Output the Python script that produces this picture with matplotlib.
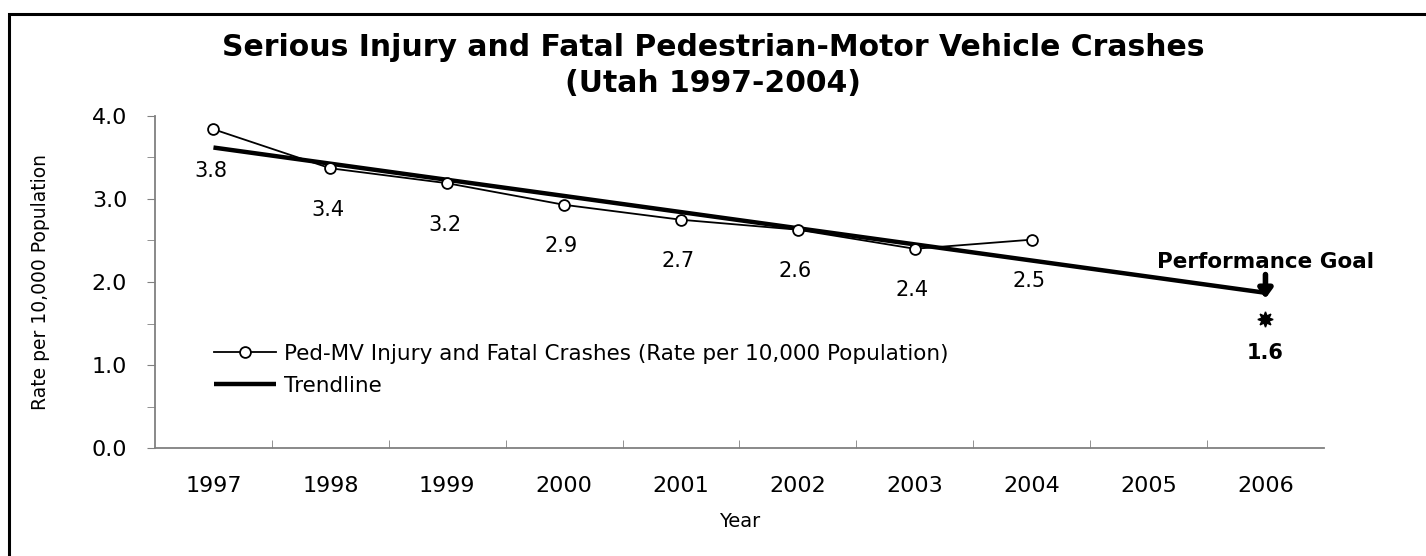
import numpy as np
import matplotlib
matplotlib.use("Agg")
import matplotlib.pyplot as plt
from matplotlib.patches import Rectangle

# --------------------------------- Data ---------------------------------------------------------
years = [1997, 1998, 1999, 2000, 2001, 2002, 2003, 2004, 2005, 2006]
obs_years = [1997, 1998, 1999, 2000, 2001, 2002, 2003, 2004]
crash_rate = [3.84, 3.37, 3.19, 2.93, 2.75, 2.63, 2.40, 2.51]
rate_labels = ["3.8", "3.4", "3.2", "2.9", "2.7", "2.6", "2.4", "2.5"]
trend_years = [1997, 2006]
trend_values = [3.62, 1.87]
goal_year = 2006
goal_value = 1.55
goal_label = "1.6"

plt.rcParams["font.family"] = ["DejaVu Sans"]
gray = "#808080"

fig = plt.figure(figsize=(14.26, 5.56), dpi=100)
ax = fig.add_axes([0.1087, 0.1942, 0.8197, 0.5972])

# categories -> positions
xpos = {y: i for i, y in enumerate(years)}
x_obs = [xpos[y] for y in obs_years]
x_trend = [xpos[y] for y in trend_years]

ax.plot(x_obs, crash_rate, color="black", lw=1.3, marker="o", ms=7.8,
        mfc="white", mec="black", mew=1.3, zorder=4,
        label="Ped-MV Injury and Fatal Crashes (Rate per 10,000 Population)")
ax.plot(x_trend, trend_values, color="black", lw=3.2, solid_capstyle="butt",
        zorder=3, label="Trendline")

for x, v, lab in zip(x_obs, crash_rate, rate_labels):
    ax.annotate(lab, (x, v), xytext=(-2, -30), textcoords="offset points",
                ha="center", va="center", fontsize=15)

# performance goal
gx = xpos[goal_year]
ax.plot([gx], [goal_value], marker=(8, 1, 0), ms=11, color="black", zorder=5)
ax.annotate(goal_label, (gx, goal_value), xytext=(0, -24), textcoords="offset points",
            ha="center", va="center", fontsize=15, fontweight="bold")
ax.annotate("", xy=(gx, trend_values[-1] - 0.07), xytext=(gx, trend_values[-1] + 0.22),
            arrowprops=dict(arrowstyle="-|>,head_width=0.4,head_length=0.55",
                            lw=4, color="black", shrinkA=0, shrinkB=0), zorder=6)
ax.annotate("Performance Goal", (gx, trend_values[-1]), xytext=(0, 22),
            textcoords="offset points", ha="center", va="center",
            fontsize=15.5, fontweight="bold")

# axes styling
ax.set_xlim(-0.5, len(years) - 0.5)
ax.set_ylim(0, 4)
ax.set_yticks(np.arange(0, 4.01, 1.0))
ax.set_yticklabels([f"{v:.1f}" for v in np.arange(0, 4.01, 1.0)], fontsize=16)
ax.set_yticks(np.arange(0.5, 4, 1.0), minor=True)
ax.set_xticks(range(len(years)))
ax.set_xticklabels([str(y) for y in years], fontsize=16)
ax.set_xticks(np.arange(0.5, len(years) - 0.5, 1.0), minor=True)
ax.tick_params(axis="x", which="major", length=0, pad=20)
ax.tick_params(axis="x", which="minor", direction="in", length=6, color=gray)
ax.tick_params(axis="y", which="both", direction="out", length=6, color=gray, pad=14)
for s in ["top", "right"]:
    ax.spines[s].set_visible(False)
for s in ["left", "bottom"]:
    ax.spines[s].set_color(gray)
    ax.spines[s].set_linewidth(1.3)

ax.set_xlabel("Year", fontsize=14, labelpad=12)
ax.set_ylabel("Rate per 10,000 Population", fontsize=13.5, labelpad=30)

fig.text(0.5, 0.915, "Serious Injury and Fatal Pedestrian-Motor Vehicle Crashes",
         ha="center", va="center", fontsize=21.5, fontweight="bold")
fig.text(0.5, 0.849, "(Utah 1997-2004)", ha="center", va="center",
         fontsize=21.5, fontweight="bold")

ax.legend(loc="upper left", bbox_to_anchor=(0.043, 0.34), frameon=False,
          fontsize=15.5, handlelength=2.9, handletextpad=0.35, labelspacing=0.55,
          borderaxespad=0)

# outer frame (only left and top edges fall inside the picture)
fig.patches.append(Rectangle((0.0065, -0.05), 1.1, 0.975 + 0.05, transform=fig.transFigure,
                             fill=False, edgecolor="black", lw=2.2))

fig.savefig("out.png", dpi=100)
